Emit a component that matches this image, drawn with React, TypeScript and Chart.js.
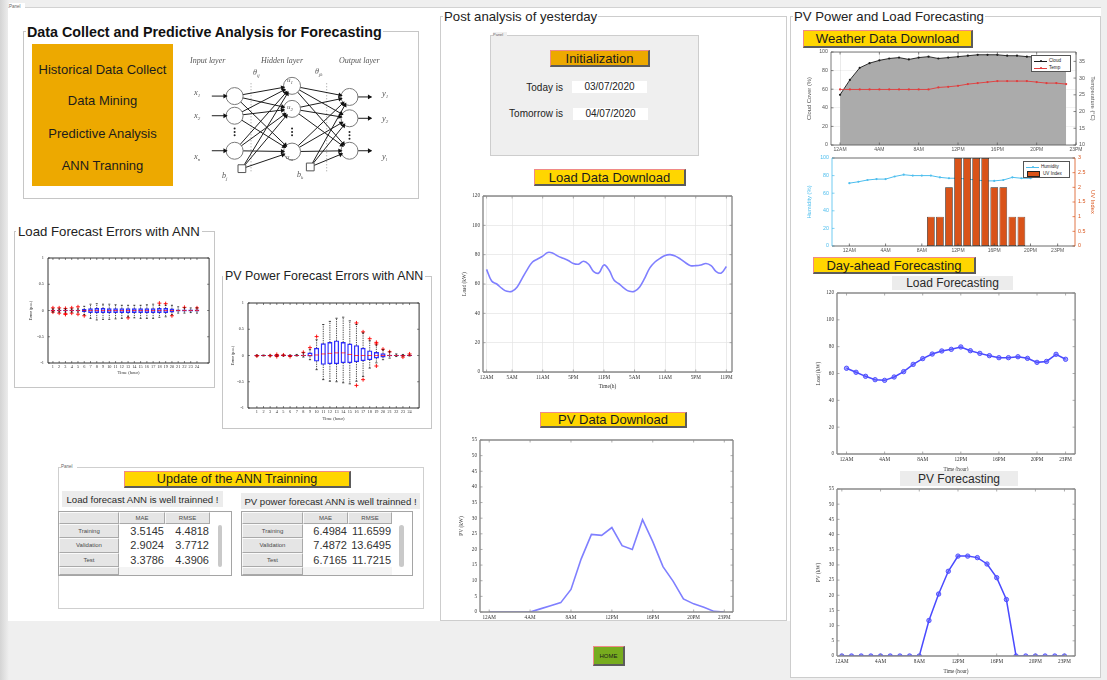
import React, { useEffect, useRef } from "react";
import { Chart, registerables } from "chart.js";

Chart.register(...registerables);

// ======================= DATA =======================
const dayTickPos = [0, 4, 8, 12, 16, 20, 23];
const weatherTickPos = [0, 4, 8, 12, 16, 20, 24];
const dayTickLabels = ["12AM", "4AM", "8AM", "12PM", "16PM", "20PM", "23PM"];

const loadHistTickPos = [0, 5, 11, 17, 23, 29, 35, 41, 47];
const loadHistTickLabels = ["12AM", "5AM", "11AM", "5PM", "11PM", "5AM", "11AM", "5PM", "11PM"];

const loadHistory = [
  70, 62, 60, 57, 55, 55, 58, 64, 70, 75, 77, 79, 81.5, 81, 79, 77.5, 76, 74, 73.5, 75.5, 73.5, 68.5, 67.5, 73,
  69.5, 62.5, 60, 57, 55, 55, 58, 64, 71, 75, 77.5, 79.5, 80, 79, 77, 74.5, 72.5, 72.5, 73, 74, 72.5, 68.5, 67.5, 72,
];
const pvHistory = [0, 0, 0, 0, 0, 1, 2, 3, 7.2, 17, 24.8, 24.5, 27, 21.2, 20, 29.5, 22.5, 14.5, 9.8, 4.2, 2.6, 1.5, 0.2, 0];

const cloudCover = [54, 70, 83, 88, 91, 93, 94, 92, 94, 95, 93, 94, 95, 96, 97, 97, 97, 96, 96, 95, 94.6, 94, 94, 94];
const temperature = [
  26.6, 26.6, 26.6, 26.6, 26.6, 26.6, 26.6, 26.6, 26.6, 26.6, 27.2, 27.4, 27.7, 28.2, 28.5, 28.8, 29.1, 29.1, 29.1,
  29.1, 28.8, 28.5, 28.5, 28.2,
];
const humidity = [71.4, 73, 75, 76, 76, 79, 81, 80, 80, 80, 78, 77, 77, 76, 75, 74, 74, 75, 78, 77, 77, 80, 82, 85];
const uvIndex = [0, 0, 0, 0, 0, 0, 0, 0, 0, 1, 1, 2, 3, 3, 3, 3, 2, 2, 1, 1, 0, 0, 0, 0];

const loadForecast = [
  63.9, 60.9, 57.9, 55.4, 54.9, 57.4, 61.4, 66.8, 71.1, 74.5, 76.8, 78, 79.8, 77, 75, 73.3, 71.8, 71.8, 72.5, 71.3,
  68.3, 69, 74.3, 70.6,
];
const pvForecast = [0, 0, 0, 0, 0, 0, 0, 0, 0, 11.7, 20.4, 27.9, 32.9, 32.9, 32.4, 30.3, 25.8, 18.6, 0, 0, 0, 0, 0, 0];

const errHours = [1, 2, 3, 4, 5, 6, 7, 8, 9, 10, 11, 12, 13, 14, 15, 16, 17, 18, 19, 20, 21, 22, 23, 24];
const errHourLabels = errHours.map((h) => String(h));
const errYTicks = [-1, -0.5, 0, 0.5, 1];

const loadErrQ1 = [-0.01, -0.01, -0.01, -0.01, -0.01, -0.02, -0.04, -0.04, -0.04, -0.04, -0.04, -0.04, -0.04, -0.04, -0.04, -0.04, -0.04, -0.04, -0.04, -0.03, -0.015, -0.015, -0.015, -0.015];
const loadErrQ3 = [0.01, 0.01, 0.01, 0.01, 0.01, 0.02, 0.035, 0.04, 0.04, 0.035, 0.035, 0.035, 0.035, 0.035, 0.035, 0.035, 0.035, 0.04, 0.04, 0.03, 0.015, 0.015, 0.015, 0.015];
const loadErrMed = [0, 0, 0, 0, 0, 0, 0, 0, 0, 0, 0, 0, 0, 0, 0, 0, 0, 0, 0, 0, 0, 0, 0, 0];
const loadErrLo = [-0.03, -0.03, -0.03, -0.03, -0.03, -0.08, -0.15, -0.18, -0.17, -0.17, -0.16, -0.15, -0.12, -0.14, -0.15, -0.15, -0.15, -0.13, -0.12, -0.08, -0.05, -0.05, -0.04, -0.05];
const loadErrHi = [0.03, 0.03, 0.03, 0.03, 0.03, 0.08, 0.12, 0.13, 0.12, 0.12, 0.11, 0.1, 0.1, 0.1, 0.1, 0.11, 0.12, 0.1, 0.1, 0.1, 0.07, 0.05, 0.05, 0.05];
const loadErrOutHour = [1, 1, 2, 2, 3, 3, 3, 4, 4, 5, 5, 6, 13, 18, 19, 20, 22, 24];
const loadErrOutVal = [0.05, -0.03, 0.05, -0.05, 0.04, -0.06, -0.075, 0.05, -0.05, 0.07, -0.07, -0.1, -0.14, 0.14, 0.13, -0.1, 0.06, 0.05];

const pvErrQ1 = [-0.005, -0.005, -0.005, -0.005, -0.005, -0.005, -0.005, -0.005, -0.015, -0.11, -0.17, -0.16, -0.16, -0.14, -0.14, -0.12, -0.1, -0.08, -0.05, -0.03, -0.01, -0.005, -0.005, -0.005];
const pvErrQ3 = [0.005, 0.005, 0.005, 0.005, 0.005, 0.005, 0.005, 0.01, 0.05, 0.14, 0.225, 0.25, 0.28, 0.25, 0.22, 0.19, 0.14, 0.09, 0.06, 0.035, 0.01, 0.005, 0.005, 0.005];
const pvErrMed = [0, 0, 0, 0, 0, 0, 0, 0, 0, 0.01, 0.03, 0.04, 0.05, 0.05, 0.02, 0, 0, 0, 0, 0, 0, 0, 0, 0];
const pvErrLo = [-0.01, -0.01, -0.01, -0.01, -0.01, -0.01, -0.01, -0.03, -0.08, -0.27, -0.46, -0.49, -0.5, -0.52, -0.54, -0.49, -0.4, -0.24, -0.14, -0.08, -0.05, -0.02, -0.01, -0.01];
const pvErrHi = [0.01, 0.01, 0.01, 0.01, 0.01, 0.01, 0.02, 0.05, 0.11, 0.3, 0.59, 0.65, 0.71, 0.73, 0.66, 0.59, 0.43, 0.28, 0.2, 0.11, 0.07, 0.03, 0.02, 0.01];
const pvErrOutHour = [1, 3, 4, 4, 5, 6, 8, 9, 10, 16, 16, 17, 17, 18, 19, 19, 19, 20, 21, 23, 24];
const pvErrOutVal = [-0.01, -0.005, 0.02, -0.02, 0.01, -0.02, 0.06, 0.15, 0.36, 0.62, -0.57, 0.45, -0.46, 0.32, 0.22, 0.25, -0.2, 0.12, 0.07, -0.03, 0.03];

const tableRows = ["Training", "Validation", "Test"];
const loadMAE = [3.5145, 2.9024, 3.3786];
const loadRMSE = [4.4818, 3.7712, 4.3906];
const pvMAE = [6.4984, 7.4872, 6.7165];
const pvRMSE = [11.6599, 13.6495, 11.7215];

// neural-network diagram nodes
const nnInputNodes = [{ x: 229, y: 92 }, { x: 229, y: 115 }, { x: 229, y: 156 }];
const nnHiddenNodes = [{ x: 292, y: 80 }, { x: 292, y: 107 }, { x: 292, y: 157 }];
const nnOutputNodes = [{ x: 355, y: 93 }, { x: 355, y: 118 }, { x: 355, y: 156 }];
const nnBiasNodes = [{ x: 237, y: 177 }, { x: 312, y: 175 }];

// ======================= HELPERS =======================
const SERIF = "'Liberation Serif','Times New Roman',serif";
const SANS = "'Liberation Sans',Arial,Helvetica,sans-serif";

const A = (left: number, top: number, width: number, height: number, extra: any = {}) => ({
  position: "absolute" as const,
  left,
  top,
  width,
  height,
  boxSizing: "border-box" as const,
  ...extra,
});

const setTicks = (vals: number[]) => (ax: any) => {
  ax.ticks = vals.map((v) => ({ value: v }));
};
const fitFix = (w?: number, h?: number) => (s: any) => {
  if (w != null) s.width = w;
  if (h != null) s.height = h;
  s.paddingLeft = 0;
  s.paddingRight = 0;
  s.paddingTop = 0;
  s.paddingBottom = 0;
};

function axX(p: any) {
  return {
    type: "linear",
    position: "bottom",
    min: p.min,
    max: p.max,
    afterBuildTicks: setTicks(p.ticks),
    afterFit: fitFix(undefined, p.h),
    ticks: {
      autoSkip: false,
      maxRotation: 0,
      minRotation: 0,
      padding: p.pad ?? 2,
      font: { family: p.family, size: p.fs },
      color: p.color,
      callback: (_v: any, i: number) => p.labels[i],
    },
    grid: { display: !!p.grid, color: p.gridColor || "#e4e4e4", lineWidth: 0.7, drawTicks: false },
    border: { display: false },
    title: p.title
      ? { display: true, text: p.title, font: { family: p.family, size: p.tfs ?? p.fs }, color: p.titleColor ?? p.color, padding: 0 }
      : { display: false },
    z: p.z ?? 0,
  };
}
function axY(p: any) {
  return {
    type: "linear",
    position: p.position ?? "left",
    min: p.min,
    max: p.max,
    afterBuildTicks: setTicks(p.ticks),
    afterFit: fitFix(p.w, undefined),
    ticks: {
      autoSkip: false,
      padding: p.pad ?? 3,
      font: { family: p.family, size: p.fs },
      color: p.color,
      callback: (v: any) => String(v),
    },
    grid: { display: !!p.grid, color: p.gridColor || "#e4e4e4", lineWidth: 0.7, drawTicks: false },
    border: { display: false },
    title: p.title
      ? { display: true, text: p.title, font: { family: p.family, size: p.tfs ?? p.fs }, color: p.titleColor ?? p.color, padding: 0 }
      : { display: false },
    z: p.z ?? 0,
  };
}

const makeFrame = (o: any) => ({
  id: "frame",
  afterDraw(chart: any) {
    const { ctx, chartArea: a } = chart;
    const L = o.tickLen ?? 3;
    ctx.save();
    const seg = (x1: number, y1: number, x2: number, y2: number, c: string) => {
      ctx.strokeStyle = c;
      ctx.beginPath();
      ctx.moveTo(x1, y1);
      ctx.lineTo(x2, y2);
      ctx.stroke();
    };
    ctx.lineWidth = o.tickWidth ?? 0.7;
    const xs = chart.scales.x;
    xs.ticks.forEach((t: any) => {
      const p = xs.getPixelForValue(t.value);
      seg(p, a.bottom, p, a.bottom - L, o.color);
      if (o.xTop) seg(p, a.top, p, a.top + L, o.color);
    });
    const ys = chart.scales.y;
    ys.ticks.forEach((t: any) => {
      const p = ys.getPixelForValue(t.value);
      seg(a.left, p, a.left + L, p, o.leftColor || o.color);
      if (o.yMirror) seg(a.right, p, a.right - L, p, o.color);
    });
    const yr = chart.scales.y1;
    if (yr) {
      yr.ticks.forEach((t: any) => {
        const p = yr.getPixelForValue(t.value);
        seg(a.right, p, a.right - L, p, o.rightColor || o.color);
      });
    }
    ctx.lineWidth = o.width ?? 1;
    seg(a.left, a.top, a.right, a.top, o.color);
    seg(a.left, a.bottom, a.right, a.bottom, o.color);
    seg(a.left, a.top, a.left, a.bottom, o.leftColor || o.color);
    seg(a.right, a.top, a.right, a.bottom, o.rightColor || o.color);
    ctx.restore();
  },
});

const makeBoxPlugin = (stats: any[], bw: number) => ({
  id: "boxExtras",
  afterDatasetsDraw(chart: any) {
    const { ctx } = chart;
    const x = chart.scales.x;
    const y = chart.scales.y;
    ctx.save();
    ctx.lineWidth = 0.7;
    stats.forEach((s) => {
      const px = x.getPixelForValue(s.h);
      const yq1 = y.getPixelForValue(s.q1);
      const yq3 = y.getPixelForValue(s.q3);
      const ylo = y.getPixelForValue(s.lo);
      const yhi = y.getPixelForValue(s.hi);
      const ym = y.getPixelForValue(s.med);
      ctx.strokeStyle = "#000";
      ctx.setLineDash([1.3, 1]);
      ctx.beginPath();
      ctx.moveTo(px, yq3);
      ctx.lineTo(px, yhi);
      ctx.moveTo(px, yq1);
      ctx.lineTo(px, ylo);
      ctx.stroke();
      ctx.setLineDash([]);
      ctx.beginPath();
      ctx.moveTo(px - bw / 4, yhi);
      ctx.lineTo(px + bw / 4, yhi);
      ctx.moveTo(px - bw / 4, ylo);
      ctx.lineTo(px + bw / 4, ylo);
      ctx.stroke();
      ctx.strokeStyle = "#ff0000";
      ctx.beginPath();
      ctx.moveTo(px - bw / 2, ym);
      ctx.lineTo(px + bw / 2, ym);
      ctx.stroke();
    });
    ctx.restore();
  },
});

const baseOptions = (padTop: number, padRight: number, scales: any) => ({
  animation: false,
  responsive: false,
  events: [],
  layout: { padding: { top: padTop, right: padRight, left: 0, bottom: 0 } },
  plugins: { legend: { display: false }, tooltip: { enabled: false }, title: { display: false } },
  scales,
});

const pts = (arr: number[], offset = 0) => arr.map((v, i) => ({ x: i + offset, y: v }));

// ======================= CHART CONFIGS =======================
function boxConfig(p: any) {
  const stats = errHours.map((h, i) => ({ h, q1: p.q1[i], q3: p.q3[i], med: p.med[i], lo: p.lo[i], hi: p.hi[i] }));
  return {
    type: "bar",
    data: {
      datasets: [
        {
          type: "scatter",
          data: p.outH.map((h: number, i: number) => ({ x: h, y: p.outV[i] })),
          pointStyle: "cross",
          pointRadius: 2,
          borderColor: "#ff0000",
          pointBorderColor: "#ff0000",
          borderWidth: 0.9,
          order: 0,
        },
        {
          type: "bar",
          data: stats.map((s) => ({ x: s.h, y: [s.q1, s.q3] })),
          backgroundColor: "rgba(0,0,0,0)",
          borderColor: "#2f2fff",
          borderWidth: 0.7,
          borderSkipped: false,
          barThickness: p.bw,
          order: 1,
        },
      ],
    },
    options: baseOptions(p.padTop, p.padRight, {
      x: axX({ min: p.xMin, max: p.xMax, ticks: errHours, labels: errHourLabels, h: p.xH, family: SERIF, fs: 4.3, color: "#333", title: "Time (hour)", tfs: 4.6, pad: 1.5 }),
      y: axY({ min: -1, max: 1, ticks: errYTicks, w: p.yW, family: SERIF, fs: 4.3, color: "#333", title: "Error (p.u.)", tfs: 4.3, pad: 4 }),
    }),
    plugins: [makeFrame({ color: "#333", width: 1, tickLen: 2, xTop: true, yMirror: true, tickWidth: 0.6 }), makeBoxPlugin(stats, p.bw)],
  };
}

function nnConfig() {
  const r = 8.5;
  const conns: any[] = [];
  [...nnInputNodes, nnBiasNodes[0]].forEach((a) => nnHiddenNodes.forEach((b) => conns.push({ a, b, node: true })));
  [...nnHiddenNodes, nnBiasNodes[1]].forEach((a) => nnOutputNodes.forEach((b) => conns.push({ a, b, node: true })));
  nnInputNodes.forEach((b) => conns.push({ a: { x: b.x - 25, y: b.y }, b, node: true }));
  nnOutputNodes.forEach((a) => conns.push({ a, b: { x: a.x + 24, y: a.y }, node: false }));
  const tips = conns.map((c) => {
    const dx = c.b.x - c.a.x;
    const dy = c.b.y - c.a.y;
    const len = Math.sqrt(dx * dx + dy * dy);
    const back = c.node ? r + 2.2 : 2.2;
    return { x: c.b.x - (dx / len) * back, y: c.b.y - (dy / len) * back, rot: (Math.atan2(dy, dx) * 180) / Math.PI + 90 };
  });
  const lineSets = conns.map((c) => ({
    type: "line",
    data: [
      { x: c.a.x, y: c.a.y },
      { x: c.b.x, y: c.b.y },
    ],
    borderColor: "#1e1e1e",
    borderWidth: 1,
    pointRadius: 0,
    order: 3,
  }));
  const dotted = [nnInputNodes[0].x + 18, nnHiddenNodes[0].x + 38].map((x) => ({
    type: "line",
    data: [
      { x, y: 77 },
      { x, y: 181 },
    ],
    borderColor: "#9a9a9a",
    borderWidth: 1,
    borderDash: [1, 2],
    pointRadius: 0,
    order: 4,
  }));
  const ellipsis: any[] = [];
  [nnInputNodes, nnHiddenNodes, nnOutputNodes].forEach((layer, k) => {
    const base = k === 2 ? 134 : 130;
    [0, 4, 8].forEach((d) => ellipsis.push({ x: layer[0].x, y: base + d }));
  });
  return {
    type: "scatter",
    data: {
      datasets: [
        ...lineSets,
        ...dotted,
        {
          type: "scatter",
          data: [...nnInputNodes, ...nnHiddenNodes, ...nnOutputNodes],
          pointStyle: "circle",
          pointRadius: r,
          pointBackgroundColor: "#ffffff",
          pointBorderColor: "#7a7a7a",
          pointBorderWidth: 1,
          order: 1,
        },
        {
          type: "scatter",
          data: nnBiasNodes,
          pointStyle: "rect",
          pointRadius: 5.5,
          pointBackgroundColor: "#ffffff",
          pointBorderColor: "#555",
          pointBorderWidth: 1,
          order: 1,
        },
        {
          type: "scatter",
          data: ellipsis,
          pointRadius: 1,
          pointBackgroundColor: "#222",
          pointBorderWidth: 0,
          order: 1,
        },
        {
          type: "scatter",
          data: tips.map((t) => ({ x: t.x, y: t.y })),
          pointStyle: "triangle",
          pointRadius: 2.8,
          pointRotation: tips.map((t) => t.rot),
          pointBackgroundColor: "#111",
          pointBorderWidth: 0,
          order: 0,
        },
      ],
    },
    options: {
      animation: false,
      responsive: false,
      events: [],
      layout: { padding: 0 },
      plugins: { legend: { display: false }, tooltip: { enabled: false } },
      scales: {
        x: { type: "linear", display: false, min: 185, max: 400 },
        y: { type: "linear", display: false, min: 55, max: 185, reverse: true },
      },
    },
  };
}

function loadHistConfig() {
  return {
    type: "line",
    data: {
      datasets: [
        { data: pts(loadHistory), borderColor: "#7f7fff", borderWidth: 1.6, pointRadius: 0, tension: 0.4, fill: false },
      ],
    },
    options: baseOptions(6, 3, {
      x: axX({ min: -0.7, max: 48.1, ticks: loadHistTickPos, labels: loadHistTickLabels, h: 18, family: SERIF, fs: 5.2, color: "#333", title: "Time(h)", tfs: 5.4, grid: true, pad: 2.5 }),
      y: axY({ min: 0, max: 120, ticks: [0, 20, 40, 60, 80, 100, 120], w: 22, family: SERIF, fs: 5.2, color: "#333", title: "Load (kW)", tfs: 5.4, grid: true }),
    }),
    plugins: [makeFrame({ color: "#8a8a8a", width: 1.4, tickLen: 2.5, xTop: true, yMirror: true })],
  };
}

function pvHistConfig() {
  return {
    type: "line",
    data: { datasets: [{ data: pts(pvHistory), borderColor: "#7f7fff", borderWidth: 1.6, pointRadius: 0, tension: 0, fill: false }] },
    options: baseOptions(6, 5, {
      x: axX({ min: -0.9, max: 23.85, ticks: dayTickPos, labels: dayTickLabels, h: 22, family: SERIF, fs: 5.2, color: "#333", title: "Time(h)", tfs: 5.4, pad: 2.5 }),
      y: axY({ min: 0, max: 55, ticks: [0, 5, 10, 15, 20, 25, 30, 35, 40, 45, 50, 55], w: 22, family: SERIF, fs: 5.2, color: "#333", title: "PV (kW)", tfs: 5.4 }),
    }),
    plugins: [makeFrame({ color: "#8a8a8a", width: 1.4, tickLen: 2.5, xTop: true, yMirror: true })],
  };
}

function weatherConfig() {
  return {
    type: "line",
    data: {
      datasets: [
        { yAxisID: "y1", data: pts(temperature), borderColor: "#e23b3b", borderWidth: 0.9, pointRadius: 1.1, pointBackgroundColor: "#e23b3b", pointBorderWidth: 0, order: 0 },
        { yAxisID: "y", data: pts(cloudCover), borderColor: "#1c1c1c", borderWidth: 0.9, pointRadius: 1.1, pointBackgroundColor: "#1c1c1c", pointBorderWidth: 0, fill: "origin", backgroundColor: "#ababab", order: 1 },
      ],
    },
    options: baseOptions(6, 0, {
      x: axX({ min: -0.92, max: 24, ticks: weatherTickPos, labels: dayTickLabels, h: 9, family: SANS, fs: 5, color: "#555", grid: true, gridColor: "rgba(0,0,0,0.12)", z: 1, pad: 2 }),
      y: axY({ min: 0, max: 100, ticks: [0, 20, 40, 60, 80, 100], w: 25, family: SANS, fs: 5.3, color: "#555", title: "Cloud Cover (%)", tfs: 5.8, grid: true, gridColor: "rgba(0,0,0,0.08)", z: 1 }),
      y1: axY({ position: "right", min: 10, max: 37.8, ticks: [10, 15, 20, 25, 30, 35], w: 20, family: SANS, fs: 5.3, color: "#555", title: "Temperature (°C)", tfs: 5.8 }),
    }),
    plugins: [makeFrame({ color: "#555", width: 0.8, tickLen: 2.5, xTop: true })],
  };
}

function humidityConfig() {
  const blue = "rgb(77,190,238)";
  const orange = "rgb(217,83,25)";
  return {
    type: "bar",
    data: {
      datasets: [
        {
          type: "bar",
          yAxisID: "y1",
          data: uvIndex.map((v, i) => ({ x: i, y: v === 0 ? null : v })),
          backgroundColor: orange,
          borderColor: "#1a1a1a",
          borderWidth: 0.7,
          borderSkipped: false,
          barPercentage: 0.85,
          categoryPercentage: 1,
          order: 0,
        },
        { type: "line", yAxisID: "y", data: pts(humidity), borderColor: blue, borderWidth: 1, pointRadius: 1.1, pointBackgroundColor: blue, pointBorderWidth: 0, order: 1 },
      ],
    },
    options: baseOptions(6, 0, {
      x: axX({ min: 0, max: 23, ticks: dayTickPos, labels: dayTickLabels, h: 10, family: SANS, fs: 5, color: "#555", pad: 2 }),
      y: axY({ min: 0, max: 100, ticks: [0, 20, 40, 60, 80, 100], w: 26, family: SANS, fs: 5.3, color: blue, title: "Humidity (%)", tfs: 5.8 }),
      y1: axY({ position: "right", min: 0, max: 3, ticks: [0, 0.5, 1, 1.5, 2, 2.5, 3], w: 21, family: SANS, fs: 5.3, color: orange, title: "UV Index", tfs: 5.8 }),
    }),
    plugins: [makeFrame({ color: "#444", leftColor: blue, rightColor: orange, width: 0.8, tickLen: 2.5 })],
  };
}

function loadFcConfig() {
  return {
    type: "line",
    data: {
      datasets: [
        { data: pts(loadForecast), borderColor: "#4a4aff", borderWidth: 1.5, pointRadius: 2.2, pointBackgroundColor: "rgba(90,90,255,0.55)", pointBorderColor: "#4a4aff", pointBorderWidth: 0.9, tension: 0 },
      ],
    },
    options: baseOptions(5, 3, {
      x: axX({ min: -1, max: 24, ticks: dayTickPos, labels: dayTickLabels, h: 19, family: SERIF, fs: 5.2, color: "#333", title: "Time (hour)", tfs: 5.2, pad: 2.5 }),
      y: axY({ min: 0, max: 120, ticks: [0, 20, 40, 60, 80, 100, 120], w: 22, family: SERIF, fs: 5.2, color: "#333", title: "Load (kW)", tfs: 5.4 }),
    }),
    plugins: [makeFrame({ color: "#8a8a8a", width: 1.4, tickLen: 2.5, xTop: true, yMirror: true })],
  };
}

function pvFcConfig() {
  return {
    type: "line",
    data: {
      datasets: [
        { data: pts(pvForecast), borderColor: "#4a4aff", borderWidth: 1.5, pointRadius: 2.2, pointBackgroundColor: "rgba(90,90,255,0.55)", pointBorderColor: "#4a4aff", pointBorderWidth: 0.9, tension: 0 },
      ],
    },
    options: baseOptions(5, 3, {
      x: axX({ min: -0.5, max: 24.1, ticks: dayTickPos, labels: dayTickLabels, h: 19, family: SERIF, fs: 5.2, color: "#333", title: "Time (hour)", tfs: 5.2, pad: 2.5 }),
      y: axY({ min: 0, max: 55, ticks: [0, 5, 10, 15, 20, 25, 30, 35, 40, 45, 50, 55], w: 22, family: SERIF, fs: 5.2, color: "#333", title: "PV (kW)", tfs: 5.4 }),
    }),
    plugins: [makeFrame({ color: "#8a8a8a", width: 1.4, tickLen: 2.5, xTop: true, yMirror: true })],
  };
}

// ======================= COMPONENTS =======================
function ChartCanvas(props: { left: number; top: number; width: number; height: number; make: () => any }) {
  const ref = useRef<HTMLCanvasElement | null>(null);
  useEffect(() => {
    if (!ref.current) return;
    const chart = new Chart(ref.current, props.make());
    return () => chart.destroy();
  }, []);
  return (
    <canvas
      ref={ref}
      width={props.width}
      height={props.height}
      style={{ position: "absolute", left: props.left, top: props.top, width: props.width, height: props.height, display: "block" }}
    />
  );
}

function Btn(p: { l: number; t: number; w: number; h: number; bg: string; text: string; fs: number }) {
  return (
    <div
      style={A(p.l, p.t, p.w, p.h, {
        background: p.bg,
        borderStyle: "solid",
        borderWidth: "1px 2px 2px 1px",
        borderColor: "#f08a86 #5c5c5c #5c5c5c #f08a86",
        display: "flex",
        alignItems: "center",
        justifyContent: "center",
        fontSize: p.fs,
        color: "#1b1b1b",
        whiteSpace: "nowrap",
        lineHeight: 1,
      })}
    >
      {p.text}
    </div>
  );
}

function Txt(p: { l: number; cy: number; fs: number; text: any; extra?: any }) {
  const lh = Math.round(p.fs * 1.3);
  return (
    <div style={{ position: "absolute", left: p.l, top: p.cy - lh / 2, lineHeight: lh + "px", fontSize: p.fs, whiteSpace: "nowrap", ...(p.extra || {}) }}>
      {p.text}
    </div>
  );
}

function GrayLabel(p: { l: number; t: number; w: number; h: number; fs: number; text: string }) {
  return (
    <div style={A(p.l, p.t, p.w, p.h, { background: "#ececec", display: "flex", alignItems: "center", justifyContent: "center", fontSize: p.fs, color: "#2a2a2a", whiteSpace: "nowrap" })}>
      {p.text}
    </div>
  );
}

function ResultTable(p: { l: number; t: number; colW: number[]; mae: number[]; rmse: number[] }) {
  const rowH = [11.5, 14, 15, 14.5, 8];
  const cells: any[] = [];
  const xs = [0];
  p.colW.forEach((w, i) => xs.push(xs[i] + w));
  const ys = [0];
  rowH.forEach((h, i) => ys.push(ys[i] + h));
  const totalW = xs[4];
  const totalH = ys[5];
  const bevel = { borderStyle: "solid", borderWidth: "1px", borderColor: "#fafafa #a9a9a9 #a9a9a9 #fafafa" };
  for (let r = 0; r < 5; r++) {
    for (let c = 0; c < 3; c++) {
      const isHead = r === 0 || c === 0;
      let text: any = "";
      let style: any = {};
      if (r === 0 && c === 1) text = "MAE";
      if (r === 0 && c === 2) text = "RMSE";
      if (r >= 1 && r <= 3 && c === 0) text = tableRows[r - 1];
      if (r >= 1 && r <= 3 && c === 1) text = p.mae[r - 1].toFixed(4);
      if (r >= 1 && r <= 3 && c === 2) text = p.rmse[r - 1].toFixed(4);
      if (isHead) {
        style = { background: "#e5e5e5", ...bevel, fontSize: 6, color: "#4a4a4a", justifyContent: "center" };
      } else if (r === 4) {
        style = { background: "#f4f4f4" };
      } else {
        style = { background: "#ffffff", fontSize: 11, color: "#333", justifyContent: "flex-end", paddingRight: 1 };
      }
      cells.push(
        <div key={r + "_" + c} style={A(xs[c], ys[r], p.colW[c], rowH[r], { display: "flex", alignItems: "center", whiteSpace: "nowrap", overflow: "hidden", ...style })}>
          {text}
        </div>
      );
    }
  }
  return (
    <div style={A(p.l, p.t, totalW + 2, totalH + 2, { border: "1px solid #a5a5a5", background: "#fff" })}>
      {cells}
      <div style={A(xs[3] + p.colW[3] / 2 - 3, 13, 4.5, 42, { background: "#c9c9c9", borderRadius: 2.5 })} />
    </div>
  );
}

function NNLabels() {
  const it = { fontStyle: "italic", fontFamily: SERIF, color: "#555" };
  const sub = (s: string) => <sub style={{ fontSize: 5, verticalAlign: "-1.5px" }}>{s}</sub>;
  return (
    <>
      <Txt l={190} cy={61} fs={8} text="Input layer" extra={it} />
      <Txt l={261} cy={61} fs={8} text="Hidden layer" extra={it} />
      <Txt l={339} cy={61} fs={8} text="Output layer" extra={it} />
      <Txt l={253} cy={73} fs={8} text={<span>θ{sub("ij")}</span>} extra={it} />
      <Txt l={315} cy={72} fs={8} text={<span>θ{sub("jk")}</span>} extra={it} />
      <Txt l={194} cy={92} fs={8.5} text={<span>x{sub("1")}</span>} extra={it} />
      <Txt l={194} cy={115} fs={8.5} text={<span>x{sub("2")}</span>} extra={it} />
      <Txt l={194} cy={156} fs={8.5} text={<span>x{sub("n")}</span>} extra={it} />
      <Txt l={382} cy={93} fs={8.5} text={<span>y{sub("1")}</span>} extra={it} />
      <Txt l={382} cy={118} fs={8.5} text={<span>y{sub("2")}</span>} extra={it} />
      <Txt l={382} cy={156} fs={8.5} text={<span>y{sub("l")}</span>} extra={it} />
      <Txt l={287} cy={80} fs={7} text={<span>u{sub("1")}</span>} extra={it} />
      <Txt l={287} cy={107} fs={7} text={<span>u{sub("2")}</span>} extra={it} />
      <Txt l={286} cy={157} fs={7} text={<span>u{sub("m")}</span>} extra={it} />
      <Txt l={222} cy={176} fs={8} text={<span>b{sub("j")}</span>} extra={it} />
      <Txt l={297} cy={175} fs={8} text={<span>b{sub("k")}</span>} extra={it} />
    </>
  );
}

function Legend(p: { l: number; t: number; w: number; h: number; items: { label: string; color: string; kind: "line" | "patch" }[] }) {
  return (
    <div style={A(p.l, p.t, p.w, p.h, { background: "#fff", border: "0.6px solid #555", fontSize: 4.6, color: "#222" })}>
      {p.items.map((it, i) => (
        <div key={i} style={{ position: "absolute", left: 2, top: 1.5 + i * 7, height: 6.5, display: "flex", alignItems: "center", whiteSpace: "nowrap" }}>
          {it.kind === "line" ? (
            <div style={{ position: "relative", width: 13, height: 6.5 }}>
              <div style={{ position: "absolute", left: 0, top: 3, width: 13, height: 0.9, background: it.color }} />
              <div style={{ position: "absolute", left: 5.5, top: 2.2, width: 2.4, height: 2.4, borderRadius: 2, background: it.color }} />
            </div>
          ) : (
            <div style={{ width: 11, height: 4, margin: "0 1px", background: it.color, border: "0.6px solid #222" }} />
          )}
          <span style={{ marginLeft: 2 }}>{it.label}</span>
        </div>
      ))}
    </div>
  );
}

export default function App() {
  const orange = "#EDA900";
  const yellow = "#FFD600";
  return (
    <div style={{ position: "fixed", left: 0, top: 0, width: 1107, height: 680, background: "#efefef", overflow: "hidden", fontFamily: SANS, color: "#222" }}>
      <div style={A(0, 0, 9, 680, { background: "linear-gradient(to right,#d4d4d4,#efefef)" })} />
      {/* outer panel */}
      <div style={A(8, 7, 1093, 614, { background: "#fff", borderTop: "1px solid #d2d2d2" })} />
      <div style={A(9, 3, 16, 8, { fontSize: 4.5, lineHeight: "8px", color: "#666", background: "#fff" })}>Panel</div>

      {/* ===== LEFT ===== */}
      <div style={A(23, 31, 396, 168, { border: "1px solid #c6c6c6" })} />
      <Txt l={26} cy={32} fs={14.3} text="Data Collect and Predictive Analysis for Forecasting" extra={{ fontWeight: "bold", background: "#fff", padding: "0 1px", color: "#111" }} />
      <div style={A(32, 44, 141, 142, { background: orange })} />
      {["Historical Data Collect", "Data Mining", "Predictive Analysis", "ANN Tranning"].map((s, i) => (
        <div key={s} style={{ position: "absolute", left: 32, width: 141, top: [70, 101, 134, 166][i] - 8, lineHeight: "16px", textAlign: "center", fontSize: 13, color: "#1c1c1c" }}>
          {s}
        </div>
      ))}
      <ChartCanvas left={185} top={55} width={215} height={130} make={nnConfig} />
      <NNLabels />

      <div style={A(14, 231, 201, 157, { border: "1px solid #c6c6c6" })} />
      <Txt l={16} cy={231} fs={13.2} text="Load Forecast Errors with ANN" extra={{ background: "#fff", padding: "0 2px", color: "#222" }} />
      <ChartCanvas
        left={28}
        top={252}
        width={186}
        height={124}
        make={() => boxConfig({ q1: loadErrQ1, q3: loadErrQ3, med: loadErrMed, lo: loadErrLo, hi: loadErrHi, outH: loadErrOutHour, outV: loadErrOutVal, xMin: 0.75, xMax: 25.4, bw: 4, padTop: 6, padRight: 2, yW: 20, xH: 13 })}
      />

      <div style={A(222, 276, 210, 153, { border: "1px solid #c6c6c6" })} />
      <Txt l={223} cy={276} fs={12.4} text="PV Power Forecast Errors with ANN" extra={{ background: "#fff", padding: "0 2px", color: "#222" }} />
      <ChartCanvas
        left={230}
        top={297}
        width={194}
        height={125}
        make={() => boxConfig({ q1: pvErrQ1, q3: pvErrQ3, med: pvErrMed, lo: pvErrLo, hi: pvErrHi, outH: pvErrOutHour, outV: pvErrOutVal, xMin: 0.2, xMax: 24.9, bw: 4.5, padTop: 6, padRight: 2, yW: 18, xH: 14 })}
      />

      {/* table panel */}
      <div style={A(58, 467, 366, 142, { border: "1px solid #cfcfcf", background: "#fff" })} />
      <div style={A(61, 463, 16, 7, { fontSize: 4.5, lineHeight: "7px", color: "#666", background: "#fff" })}>Panel</div>
      <Btn l={124} t={471} w={227} h={17} bg={yellow} text="Update of the ANN Trainning" fs={12.6} />
      <GrayLabel l={62} t={491} w={161} h={16} fs={9.6} text="Load forecast ANN is well trainned !" />
      <GrayLabel l={241} t={493} w={179} h={16} fs={9.6} text="PV power forecast ANN is well trainned !" />
      <ResultTable l={58} t={511} colW={[60, 46, 45, 21]} mae={loadMAE} rmse={loadRMSE} />
      <ResultTable l={241} t={511} colW={[61, 45, 44, 20]} mae={pvMAE} rmse={pvRMSE} />

      {/* ===== MIDDLE ===== */}
      <div style={A(440, 16, 347, 605, { border: "1px solid #cdcdcd", background: "#fff" })} />
      <Txt l={443} cy={16} fs={13.2} text="Post analysis of yesterday" extra={{ background: "#fff", padding: "0 1px", color: "#222" }} />
      <div style={A(490, 35, 209, 121, { border: "1px solid #cdcdcd", background: "#efefef" })} />
      <div style={A(493, 32, 14, 6, { fontSize: 4, lineHeight: "6px", color: "#666", background: "#efefef" })}>Panel</div>
      <Btn l={550} t={50} w={100} h={17} bg={orange} text="Initialization" fs={13} />
      <div style={{ position: "absolute", left: 480, width: 83, top: 81, lineHeight: "13px", textAlign: "right", fontSize: 10, color: "#222" }}>Today is</div>
      <div style={A(572, 81, 75, 12, { background: "#fff", fontSize: 10, textAlign: "center", lineHeight: "12px", color: "#222" })}>03/07/2020</div>
      <div style={{ position: "absolute", left: 480, width: 83, top: 107, lineHeight: "13px", textAlign: "right", fontSize: 10, color: "#222" }}>Tomorrow is</div>
      <div style={A(573, 108, 75, 12, { background: "#fff", fontSize: 10, textAlign: "center", lineHeight: "12px", color: "#222" })}>04/07/2020</div>

      <Btn l={534} t={169} w={152} h={17} bg={yellow} text="Load Data Download" fs={13} />
      <ChartCanvas left={461} top={190} width={274} height={200} make={loadHistConfig} />

      <Btn l={540} t={412} w={147} h={16} bg={yellow} text="PV Data Download" fs={13} />
      <div style={A(458, 434, 280, 187, { overflow: "hidden" })}>
        <ChartCanvas left={0} top={0} width={280} height={200} make={pvHistConfig} />
      </div>

      {/* bottom */}
      <Btn l={593} t={646} w={32} h={20} bg="#77AC1E" text="HOME" fs={6} />

      {/* ===== RIGHT ===== */}
      <div style={A(790, 16, 311, 662, { border: "1px solid #cdcdcd", background: "#fff" })} />
      <Txt l={793} cy={16} fs={13.2} text="PV Power and Load Forecasting" extra={{ background: "#fff", padding: "0 1px", color: "#222" }} />
      <Btn l={803} t={30} w={170} h={18} bg={yellow} text="Weather Data Download" fs={13.2} />
      <ChartCanvas left={806} top={46} width={290} height={108} make={weatherConfig} />
      <Legend l={1031} t={55} w={40} h={17} items={[{ label: "Cloud", color: "#1c1c1c", kind: "line" }, { label: "Temp", color: "#e23b3b", kind: "line" }]} />
      <ChartCanvas left={806} top={152} width={290} height={104} make={humidityConfig} />
      <Legend l={1023} t={161} w={47} h={17} items={[{ label: "Humidity", color: "rgb(77,190,238)", kind: "line" }, { label: "UV Index", color: "rgb(217,83,25)", kind: "patch" }]} />

      <Btn l={813} t={257} w={163} h={17} bg={yellow} text="Day-ahead Forecasting" fs={13} />
      <GrayLabel l={892} t={276} w={121} h={14} fs={12} text="Load Forecasting" />
      <ChartCanvas left={815} top={288} width={265} height={185} make={loadFcConfig} />
      <GrayLabel l={900} t={471} w={118} h={15} fs={12} text="PV Forecasting" />
      <ChartCanvas left={815} top={484} width={265} height={191} make={pvFcConfig} />
    </div>
  );
}
